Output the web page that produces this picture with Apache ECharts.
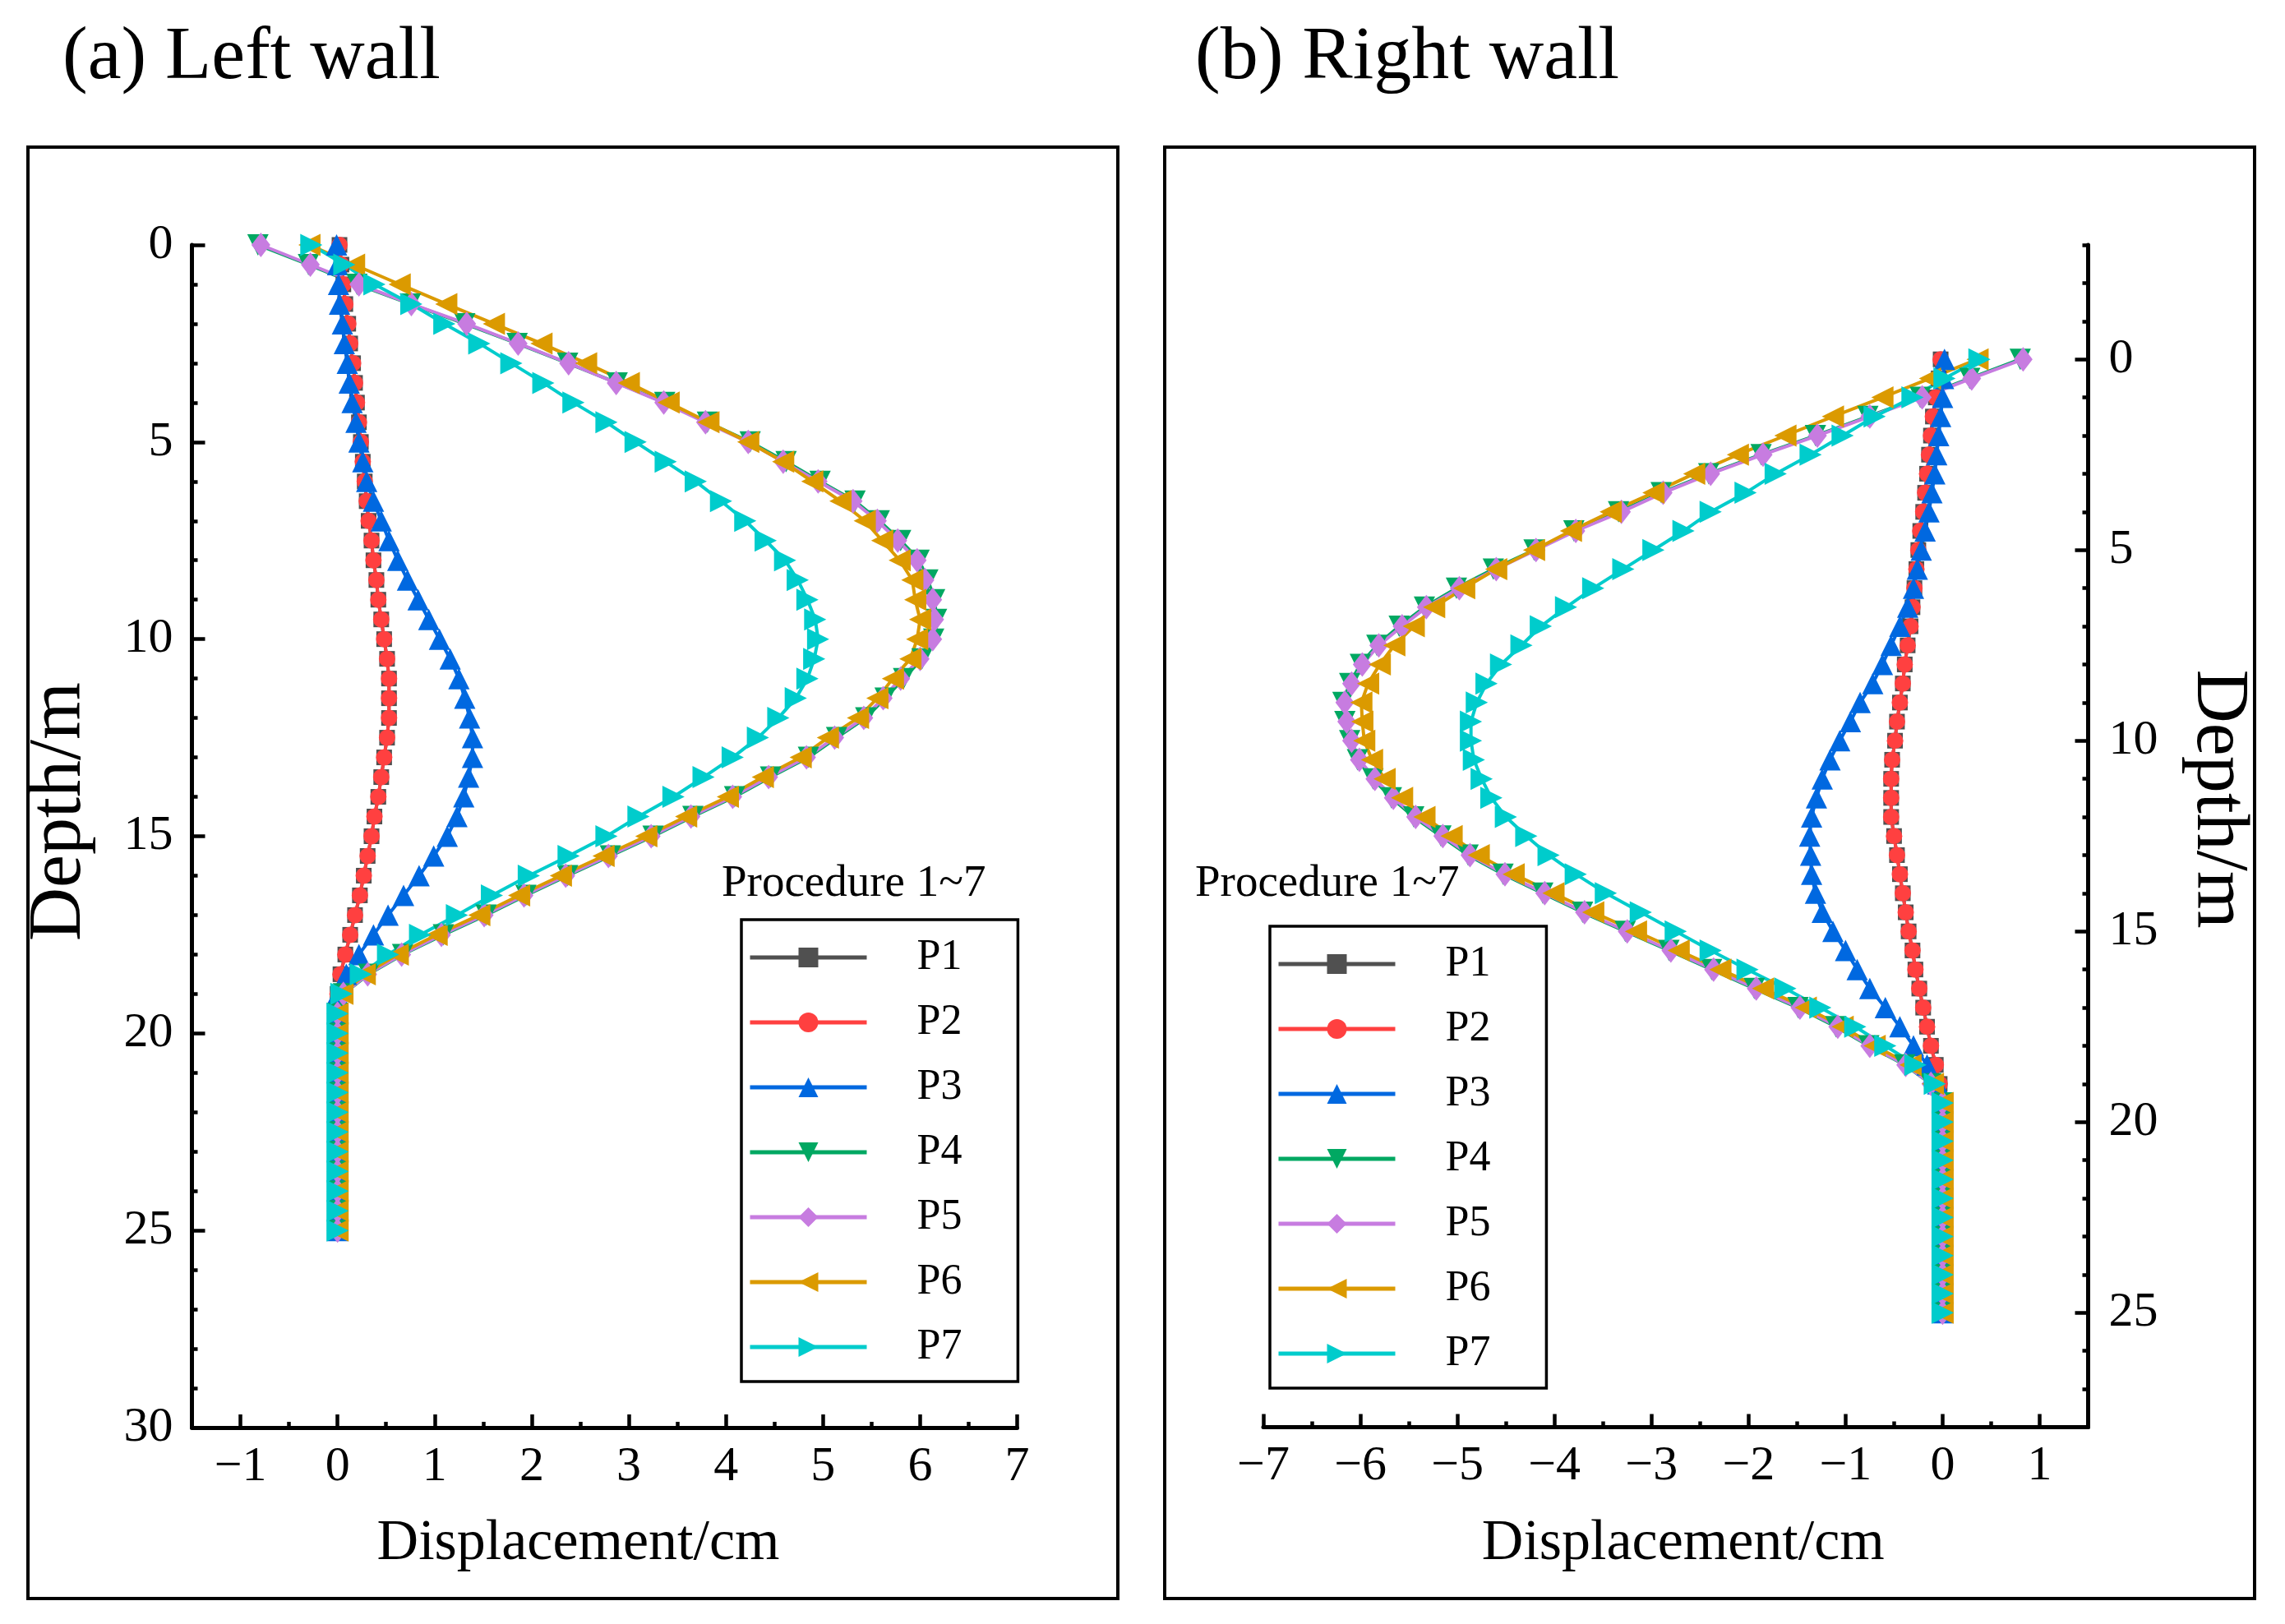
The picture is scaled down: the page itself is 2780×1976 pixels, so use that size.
<!DOCTYPE html>
<html><head><meta charset="utf-8">
<script src="https://cdn.jsdelivr.net/npm/echarts@6/dist/echarts.min.js"></script>
<style>html,body{margin:0;padding:0;background:#fff}#c{width:2780px;height:1976px}</style>
</head><body><div id="c"></div>
<script>
// ---------------- data ----------------
const depth = [0,0.5,1,1.5,2,2.5,3,3.5,4,4.5,5,5.5,6,6.5,7,7.5,8,8.5,9,9.5,10,10.5,11,11.5,12,12.5,13,13.5,14,14.5,15,15.5,16,16.5,17,17.5,18,18.5,19,19.5,20,20.5,21,21.5,22,22.5,23,23.5,24,24.5,25];
const seriesNames = ['P1','P2','P3','P4','P5','P6','P7'];

// Left wall displacement (cm)
const leftP1 = [0.02,0.04,0.06,0.08,0.11,0.13,0.16,0.18,0.20,0.22,0.24,0.26,0.28,0.30,0.32,0.35,0.37,0.40,0.42,0.45,0.48,0.51,0.53,0.53,0.53,0.51,0.48,0.45,0.42,0.38,0.35,0.31,0.27,0.23,0.18,0.13,0.08,0.03,0.00,0,0,0,0,0,0,0,0,0,0,0,0];
const leftP2 = [0.02,0.04,0.06,0.08,0.11,0.13,0.16,0.18,0.20,0.22,0.24,0.26,0.28,0.30,0.32,0.35,0.37,0.40,0.42,0.45,0.48,0.51,0.53,0.53,0.53,0.51,0.48,0.45,0.42,0.38,0.35,0.31,0.27,0.23,0.18,0.13,0.08,0.03,0.00,0,0,0,0,0,0,0,0,0,0,0,0];
const leftP3 = [-0.01,0.00,0.01,0.02,0.05,0.07,0.10,0.12,0.15,0.19,0.22,0.26,0.30,0.37,0.45,0.53,0.62,0.72,0.83,0.94,1.05,1.16,1.25,1.31,1.36,1.39,1.39,1.35,1.30,1.23,1.13,0.99,0.84,0.68,0.52,0.37,0.22,0.09,0.00,0,0,0,0,0,0,0,0,0,0,0,0];
const leftP4 = [-0.82,-0.30,0.20,0.75,1.31,1.85,2.37,2.88,3.37,3.81,4.25,4.62,4.97,5.33,5.58,5.80,5.99,6.08,6.15,6.17,6.14,6.02,5.83,5.64,5.44,5.14,4.85,4.46,4.09,3.66,3.25,2.81,2.37,1.94,1.53,1.09,0.67,0.32,0.06,0,0,0,0,0,0,0,0,0,0,0,0];
const leftP5 = [-0.79,-0.28,0.22,0.76,1.33,1.86,2.38,2.87,3.36,3.79,4.23,4.59,4.95,5.31,5.56,5.77,5.97,6.05,6.13,6.15,6.13,6.00,5.80,5.62,5.42,5.12,4.83,4.44,4.07,3.64,3.23,2.79,2.35,1.92,1.51,1.07,0.66,0.31,0.06,0,0,0,0,0,0,0,0,0,0,0,0];
const leftP6 = [-0.29,0.17,0.64,1.12,1.61,2.10,2.56,3.00,3.41,3.82,4.23,4.59,4.89,5.18,5.43,5.61,5.79,5.92,5.95,6.00,5.97,5.90,5.72,5.56,5.36,5.05,4.77,4.38,4.02,3.59,3.18,2.74,2.30,1.87,1.46,1.02,0.62,0.28,0.05,0,0,0,0,0,0,0,0,0,0,0,0];
const leftP7 = [-0.27,0.07,0.38,0.76,1.10,1.46,1.79,2.12,2.43,2.77,3.07,3.38,3.69,3.95,4.20,4.41,4.61,4.74,4.84,4.92,4.95,4.91,4.84,4.72,4.54,4.33,4.07,3.77,3.46,3.10,2.77,2.38,1.97,1.59,1.23,0.85,0.52,0.24,0.04,0,0,0,0,0,0,0,0,0,0,0,0];

// Right wall displacement (cm)
const rightP1 = [-0.02,-0.04,-0.07,-0.10,-0.12,-0.14,-0.16,-0.18,-0.20,-0.23,-0.25,-0.27,-0.29,-0.31,-0.33,-0.36,-0.39,-0.41,-0.44,-0.47,-0.49,-0.52,-0.53,-0.53,-0.53,-0.50,-0.47,-0.44,-0.41,-0.38,-0.35,-0.31,-0.28,-0.24,-0.20,-0.16,-0.12,-0.07,-0.03,0,0,0,0,0,0,0,0,0,0,0,0];
const rightP2 = [-0.02,-0.04,-0.07,-0.10,-0.12,-0.14,-0.16,-0.18,-0.20,-0.23,-0.25,-0.27,-0.29,-0.31,-0.33,-0.36,-0.39,-0.41,-0.44,-0.47,-0.49,-0.52,-0.53,-0.53,-0.53,-0.50,-0.47,-0.44,-0.41,-0.38,-0.35,-0.31,-0.28,-0.24,-0.20,-0.16,-0.12,-0.07,-0.03,0,0,0,0,0,0,0,0,0,0,0,0];
const rightP3 = [0.02,0.01,0.00,-0.02,-0.04,-0.06,-0.08,-0.11,-0.14,-0.18,-0.22,-0.26,-0.30,-0.36,-0.44,-0.53,-0.62,-0.72,-0.85,-0.95,-1.06,-1.16,-1.24,-1.30,-1.35,-1.37,-1.36,-1.35,-1.31,-1.24,-1.13,-1.00,-0.88,-0.75,-0.59,-0.44,-0.30,-0.16,-0.05,0,0,0,0,0,0,0,0,0,0,0,0];
const rightP4 = [0.80,0.28,-0.23,-0.77,-1.31,-1.87,-2.41,-2.90,-3.34,-3.80,-4.21,-4.63,-5.01,-5.34,-5.60,-5.83,-6.00,-6.11,-6.18,-6.16,-6.11,-6.03,-5.87,-5.68,-5.45,-5.17,-4.89,-4.53,-4.12,-3.71,-3.27,-2.82,-2.38,-1.94,-1.49,-1.10,-0.76,-0.39,-0.12,0,0,0,0,0,0,0,0,0,0,0,0];
const rightP5 = [0.83,0.30,-0.21,-0.75,-1.29,-1.85,-2.39,-2.88,-3.31,-3.78,-4.19,-4.60,-4.98,-5.32,-5.57,-5.81,-5.98,-6.09,-6.16,-6.14,-6.09,-6.01,-5.85,-5.66,-5.43,-5.15,-4.87,-4.51,-4.10,-3.69,-3.25,-2.80,-2.36,-1.92,-1.47,-1.08,-0.75,-0.38,-0.12,0,0,0,0,0,0,0,0,0,0,0,0];
const rightP6 = [0.36,-0.13,-0.62,-1.13,-1.62,-2.11,-2.56,-2.98,-3.42,-3.83,-4.21,-4.60,-4.93,-5.24,-5.45,-5.65,-5.80,-5.92,-5.99,-5.98,-5.96,-5.88,-5.75,-5.57,-5.34,-5.06,-4.78,-4.42,-4.01,-3.60,-3.16,-2.72,-2.29,-1.85,-1.41,-1.03,-0.70,-0.33,-0.10,0,0,0,0,0,0,0,0,0,0,0,0];
const rightP7 = [0.38,0.02,-0.31,-0.70,-1.03,-1.36,-1.72,-2.03,-2.39,-2.67,-2.98,-3.29,-3.60,-3.88,-4.14,-4.34,-4.55,-4.70,-4.80,-4.86,-4.86,-4.83,-4.75,-4.65,-4.50,-4.29,-4.06,-3.78,-3.47,-3.11,-2.75,-2.39,-2.01,-1.62,-1.26,-0.90,-0.59,-0.28,-0.08,0,0,0,0,0,0,0,0,0,0,0,0];

// tick values
const leftXTicks = [-1,0,1,2,3,4,5,6,7];
const leftXMinor = [-0.5,0.5,1.5,2.5,3.5,4.5,5.5,6.5];
const leftYTicks = [0,5,10,15,20,25,30];
const leftYMinor = [1,2,3,4,6,7,8,9,11,12,13,14,16,17,18,19,21,22,23,24,26,27,28,29];
const rightXTicks = [-7,-6,-5,-4,-3,-2,-1,0,1];
const rightXMinor = [-6.5,-5.5,-4.5,-3.5,-2.5,-1.5,-0.5,0.5];
const rightYTicks = [0,5,10,15,20,25];
const rightYMinor = [-3,-2,-1,1,2,3,4,6,7,8,9,11,12,13,14,16,17,18,19,21,22,23,24,26,27];

const titleLeft = '(a) Left wall';
const titleRight = '(b) Right wall';
const legendTitle = 'Procedure 1~7';
const xName = 'Displacement/cm';
const yName = 'Depth/m';

// ---------------- styling ----------------
const FONT = 'Liberation Serif';
const colors = ['#505050','#FF4040','#0068E0','#00A862','#C77CE0','#DB9A00','#00CCCC'];
const symbols = ['rect','circle','triangle','triangle','diamond','triangle','triangle'];
const rotates = [0,0,0,180,0,90,-90];
const sizes = [19,20,26,26,[23,30],27,27];
const fmt = v => (v < 0 ? '\u2212' + Math.abs(v) : String(v));

const leftData = [leftP1,leftP2,leftP3,leftP4,leftP5,leftP6,leftP7];
const rightData = [rightP1,rightP2,rightP3,rightP4,rightP5,rightP6,rightP7];
const pairs = xs => xs.map((x,i) => [x, depth[i]]);

const series = [];
[[leftData,0],[rightData,2]].forEach(([set,ax]) => {
  set.forEach((arr,i) => {
    series.push({
      type:'line', name:seriesNames[i], xAxisIndex:ax, yAxisIndex:ax,
      data:pairs(arr), symbol:symbols[i], symbolSize:sizes[i], symbolRotate:rotates[i],
      showAllSymbol:true, color:colors[i],
      lineStyle:{width:4,color:colors[i]}, itemStyle:{color:colors[i]},
      emphasis:{disabled:true}, animation:false
    });
  });
});

const lineStyle = {color:'#000', width:5};
function majorAxis(o){
  return Object.assign({
    type:'value', splitLine:{show:false},
    axisLine:{show:true, onZero:false, lineStyle},
    axisTick:{show:true, inside:true, length:16, lineStyle:{color:'#000', width:4.5}, customValues:o.ticks},
    axisLabel:{show:true, color:'#000', fontFamily:FONT, fontSize:60, formatter:fmt, customValues:o.ticks, margin:o.margin, showMinLabel:true, showMaxLabel:true},
    nameTextStyle:{fontFamily:FONT, color:'#000', fontSize:o.nameSize, padding:o.namePad},
  }, o.extra);
}
function minorAxis(o){
  return Object.assign({
    type:'value', splitLine:{show:false},
    axisLine:{show:false, onZero:false},
    axisTick:{show:true, inside:true, length:7, lineStyle:{color:'#000', width:4.5}, customValues:o.ticks},
    axisLabel:{show:false},
  }, o.extra);
}

function legendAt(left, top){
  return {
    orient:'vertical', left, top, data:seriesNames,
    itemWidth:142, itemHeight:30, itemGap:27,
    padding:[20,68,16,8],
    borderColor:'#000', borderWidth:3.5, backgroundColor:'#fff',
    selectedMode:false,
    lineStyle:{width:5},
    textStyle:{fontFamily:FONT, fontSize:52, color:'#000', lineHeight:52, padding:[0,0,0,56]}
  };
}

function txt(x, y, text, size){
  return {type:'text', x, y, silent:true, style:{text, fill:'#000', font:size+'px "'+FONT+'"', align:'left', verticalAlign:'middle', textAlign:'left', textVerticalAlign:'middle'}};
}

const option = {
  backgroundColor:'#fff',
  animation:false,
  textStyle:{fontFamily:FONT},
  grid:[
    {left:233.5, top:298, width:1004, height:1439, containLabel:false, outerBoundsMode:'none'},
    {left:1537, top:298, width:1003.5, height:1438.5, containLabel:false, outerBoundsMode:'none'}
  ],
  xAxis:[
    majorAxis({ticks:leftXTicks, margin:18, nameSize:70, namePad:[0,64,0,0], extra:{gridIndex:0, position:'bottom', min:-1.5, max:7, name:xName, nameLocation:'middle', nameGap:107}}),
    minorAxis({ticks:leftXMinor, extra:{gridIndex:0, position:'bottom', min:-1.5, max:7}}),
    majorAxis({ticks:rightXTicks, margin:18, nameSize:70, namePad:[0,0,0,18], extra:{gridIndex:1, position:'bottom', min:-7, max:1.5, name:xName, nameLocation:'middle', nameGap:107}}),
    minorAxis({ticks:rightXMinor, extra:{gridIndex:1, position:'bottom', min:-7, max:1.5}})
  ],
  yAxis:[
    majorAxis({ticks:leftYTicks, margin:23, nameSize:90, namePad:[0,0,0,60], extra:{gridIndex:0, position:'left', min:0, max:30, inverse:true, name:yName, nameLocation:'middle', nameRotate:90, nameGap:115}}),
    minorAxis({ticks:leftYMinor, extra:{gridIndex:0, position:'left', min:0, max:30, inverse:true}}),
    majorAxis({ticks:rightYTicks, margin:25, nameSize:90, namePad:[0,90,0,0], extra:{gridIndex:1, position:'right', min:-3, max:28, inverse:true, name:yName, nameLocation:'middle', nameRotate:-90, nameGap:112}}),
    minorAxis({ticks:rightYMinor, extra:{gridIndex:1, position:'right', min:-3, max:28, inverse:true}})
  ],
  legend:[legendAt(902,1119), legendAt(1545,1127)],
  graphic:[
    {type:'rect', silent:true, shape:{x:34,y:179,width:1326,height:1766}, style:{fill:'none', stroke:'#000', lineWidth:4}},
    {type:'rect', silent:true, shape:{x:1417,y:179,width:1326,height:1766}, style:{fill:'none', stroke:'#000', lineWidth:4}},
    txt(76, 71, titleLeft, 92),
    txt(1454, 71, titleRight, 92),
    txt(878, 1076, legendTitle, 55),
    txt(1454, 1076, legendTitle, 55)
  ],
  series
};
const chart = echarts.init(document.getElementById('c'), null, {renderer:'canvas'});
chart.setOption(option);
</script>
</body></html>
